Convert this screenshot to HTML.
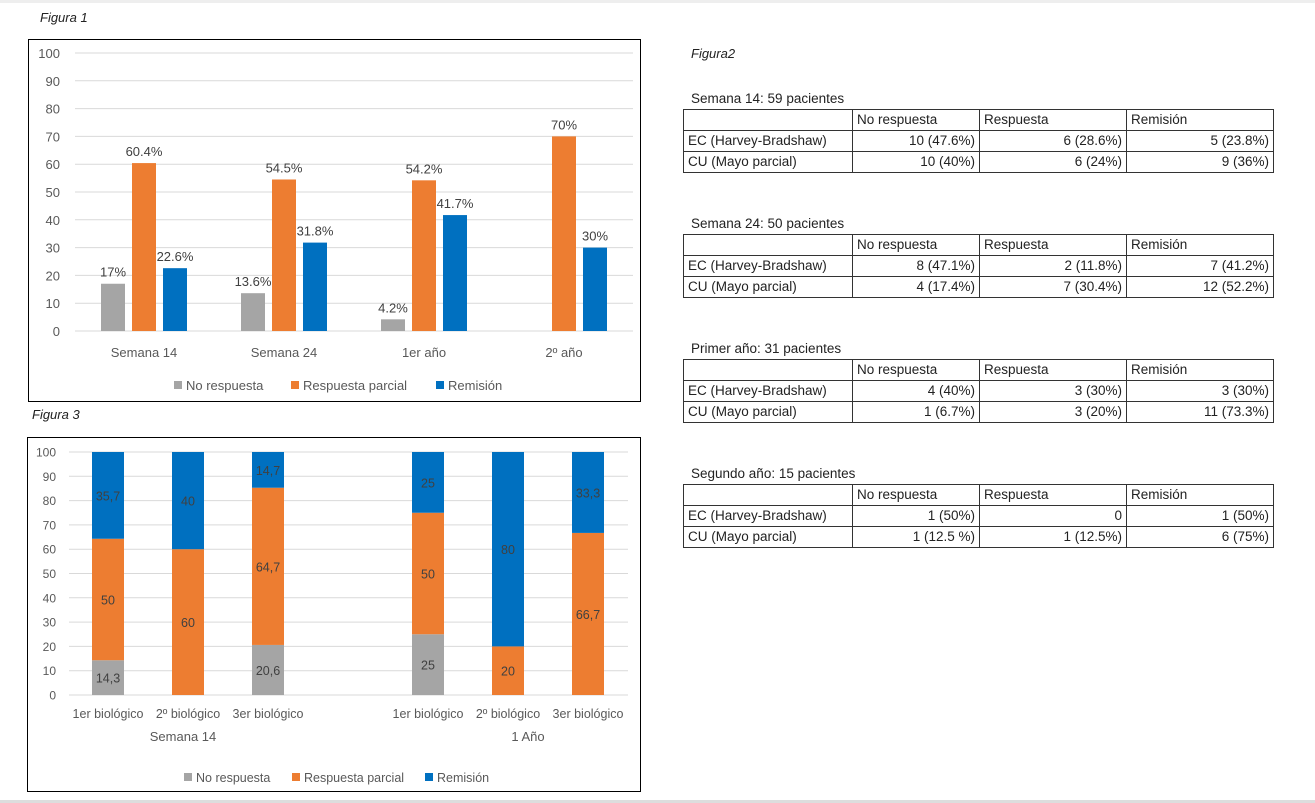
<!DOCTYPE html>
<html><head><meta charset="utf-8">
<style>
body{margin:0;width:1315px;height:803px;background:#fff;position:relative;overflow:hidden;font-family:"Liberation Sans",sans-serif;color:#222}
.cap{position:absolute;font-size:13px;font-style:italic}
.tcap{position:absolute;font-size:13.5px;left:691px}
table{position:absolute;left:683px;border-collapse:collapse;font-size:13.5px;width:591px}
td{border:1px solid #333;height:20px;padding:0 4px;line-height:20px;white-space:nowrap}
td.n{text-align:right}
#topline{position:absolute;left:0;top:0;width:1315px;height:3px;background:#eee}
#botline{position:absolute;left:0;top:800px;width:1315px;height:3px;background:#ddd}
</style></head><body>
<div id="topline"></div>
<div id="botline"></div>
<div class="cap" style="left:40px;top:10px">Figura 1</div>
<div class="cap" style="left:32px;top:407px">Figura 3</div>
<div class="cap" style="left:691px;top:46px">Figura2</div>

<svg id="fig1" style="position:absolute;left:0;top:0" width="660" height="420"></svg>
<svg id="fig3" style="position:absolute;left:0;top:420px" width="660" height="383"></svg>

<div class="tcap" style="top:91px">Semana 14: 59 pacientes</div>
<table style="top:109px">
<tr><td style="width:160px"></td><td style="width:118px">No respuesta</td><td style="width:138px">Respuesta</td><td>Remisión</td></tr>
<tr><td>EC (Harvey-Bradshaw)</td><td class="n">10 (47.6%)</td><td class="n">6 (28.6%)</td><td class="n">5 (23.8%)</td></tr>
<tr><td>CU (Mayo parcial)</td><td class="n">10 (40%)</td><td class="n">6 (24%)</td><td class="n">9 (36%)</td></tr>
</table>
<div class="tcap" style="top:216px">Semana 24: 50 pacientes</div>
<table style="top:234px">
<tr><td style="width:160px"></td><td style="width:118px">No respuesta</td><td style="width:138px">Respuesta</td><td>Remisión</td></tr>
<tr><td>EC (Harvey-Bradshaw)</td><td class="n">8 (47.1%)</td><td class="n">2 (11.8%)</td><td class="n">7 (41.2%)</td></tr>
<tr><td>CU (Mayo parcial)</td><td class="n">4 (17.4%)</td><td class="n">7 (30.4%)</td><td class="n">12 (52.2%)</td></tr>
</table>
<div class="tcap" style="top:341px">Primer año: 31 pacientes</div>
<table style="top:359px">
<tr><td style="width:160px"></td><td style="width:118px">No respuesta</td><td style="width:138px">Respuesta</td><td>Remisión</td></tr>
<tr><td>EC (Harvey-Bradshaw)</td><td class="n">4 (40%)</td><td class="n">3 (30%)</td><td class="n">3 (30%)</td></tr>
<tr><td>CU (Mayo parcial)</td><td class="n">1 (6.7%)</td><td class="n">3 (20%)</td><td class="n">11 (73.3%)</td></tr>
</table>
<div class="tcap" style="top:466px">Segundo año: 15 pacientes</div>
<table style="top:484px">
<tr><td style="width:160px"></td><td style="width:118px">No respuesta</td><td style="width:138px">Respuesta</td><td>Remisión</td></tr>
<tr><td>EC (Harvey-Bradshaw)</td><td class="n">1 (50%)</td><td class="n">0</td><td class="n">1 (50%)</td></tr>
<tr><td>CU (Mayo parcial)</td><td class="n">1 (12.5 %)</td><td class="n">1 (12.5%)</td><td class="n">6 (75%)</td></tr>
</table>

<script>
const NS="http://www.w3.org/2000/svg";
const colors=["#a5a5a5","#ed7d31","#0070c0"];
const seriesNames=["No respuesta","Respuesta parcial","Remisión"];
// Figure 1 data
const f1Categories=["Semana 14","Semana 24","1er año","2º año"];
const f1NoResp=[17,13.6,4.2,0];
const f1Parcial=[60.4,54.5,54.2,70];
const f1Remision=[22.6,31.8,41.7,30];
const f1Labels=[["17%","60.4%","22.6%"],["13.6%","54.5%","31.8%"],["4.2%","54.2%","41.7%"],["","70%","30%"]];
const yTicks=[0,10,20,30,40,50,60,70,80,90,100];
// Figure 3 data
const f3Categories=["1er biológico","2º biológico","3er biológico","1er biológico","2º biológico","3er biológico"];
const f3Groups=["Semana 14","1 Año"];
const f3NoResp=[14.3,0,20.6,25,0,0];
const f3Parcial=[50,60,64.7,50,20,66.7];
const f3Remision=[35.7,40,14.7,25,80,33.3];
const f3Labels=[["14,3","50","35,7"],["","60","40"],["20,6","64,7","14,7"],["25","50","25"],["","20","80"],["","66,7","33,3"]];

function mk(svg,tag,attrs,text){const e=document.createElementNS(NS,tag);for(const k in attrs)e.setAttribute(k,attrs[k]);if(text!==undefined)e.textContent=text;svg.appendChild(e);return e;}

// ---------- Figure 1 ----------
(function(){
const svg=document.getElementById('fig1');
const y0=331,y100=53,xL=75,xR=633;
const Y=v=>y0-(y0-y100)*v/100;
const X=i=>144+i*140;
let fr=mk(svg,'rect',{x:28.5,y:39.5,width:612,height:362,fill:'#fff',stroke:'#000','stroke-width':1});

yTicks.forEach(t=>{
 let g=mk(svg,'line',{x1:xL,x2:xR,y1:Y(t),y2:Y(t),stroke:'#d9d9d9','stroke-width':1});
 
 let l=mk(svg,'text',{x:60,y:Y(t)+5,'text-anchor':'end','font-size':13,fill:'#595959'},t);
 
});
const series=[f1NoResp,f1Parcial,f1Remision];
f1Categories.forEach((c,i)=>{
 series.forEach((s,k)=>{
  const cx=X(i)+(k-1)*31;
  if(s[i]>0){let r=mk(svg,'rect',{x:cx-12,y:Y(s[i]),width:24,height:y0-Y(s[i]),fill:colors[k]});
  }
  if(f1Labels[i][k]){let t=mk(svg,'text',{x:cx,y:Y(s[i])-7,'text-anchor':'middle','font-size':13,fill:'#404040'},f1Labels[i][k]);
  }
 });
 let t=mk(svg,'text',{x:X(i),y:357,'text-anchor':'middle','font-size':13,fill:'#595959'},c);
 
});
const lx=[[174,186],[291,303],[436,448]];
seriesNames.forEach((n,k)=>{
 let r=mk(svg,'rect',{x:lx[k][0],y:381,width:8,height:8,fill:colors[k]});
 
 let t=mk(svg,'text',{x:lx[k][1],y:390,'font-size':13,fill:'#595959'},n);
 
});
})();

// ---------- Figure 3 ----------
(function(){
const svg=document.getElementById('fig3');
const off=420;
const y0=695-off,y100=452-off,xL=69,xR=628;
const Y=v=>y0-(y0-y100)*v/100;
const X=i=>108+(i%3)*80+(i>=3?320:0);
let fr=mk(svg,'rect',{x:27.5,y:17.5,width:613,height:354,fill:'#fff',stroke:'#000','stroke-width':1});

yTicks.forEach(t=>{
 let g=mk(svg,'line',{x1:xL,x2:xR,y1:Y(t),y2:Y(t),stroke:'#d9d9d9','stroke-width':1});
 
 let l=mk(svg,'text',{x:56,y:Y(t)+4.5,'text-anchor':'end','font-size':12,fill:'#595959'},t);
 
});
const series=[f3NoResp,f3Parcial,f3Remision];
f3Categories.forEach((c,i)=>{
 let base=0;
 series.forEach((s,k)=>{
  const v=s[i];
  if(v>0){let r=mk(svg,'rect',{x:X(i)-16,y:Y(base+v),width:32,height:Y(base)-Y(base+v),fill:colors[k]});
  }
  if(f3Labels[i][k]){let t=mk(svg,'text',{x:X(i),y:Y(base+v/2)+5,'text-anchor':'middle','font-size':12.5,fill:'#404040'},f3Labels[i][k]);
  }
  base+=v;
 });
 let t=mk(svg,'text',{x:X(i),y:298,'text-anchor':'middle','font-size':12.5,fill:'#595959'},c);
 
});
f3Groups.forEach((g,j)=>{
 let t=mk(svg,'text',{x:j?528:183,y:321,'text-anchor':'middle','font-size':13,fill:'#595959'},g);
 
});
const lx=[[184,196],[292,304],[425,437]];
seriesNames.forEach((n,k)=>{
 let r=mk(svg,'rect',{x:lx[k][0],y:353,width:8,height:8,fill:colors[k]});
 
 let t=mk(svg,'text',{x:lx[k][1],y:362,'font-size':12.5,fill:'#595959'},n);
 
});
})();
</script>
</body></html>
